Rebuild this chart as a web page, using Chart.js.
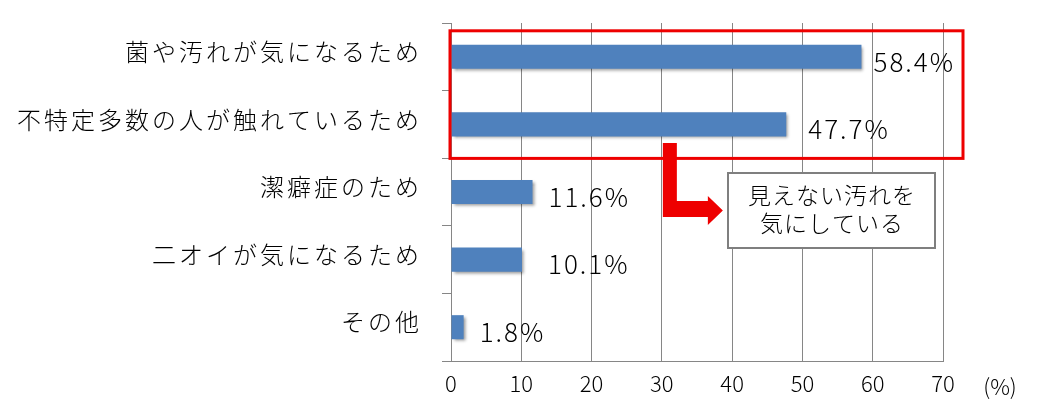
<!DOCTYPE html>
<html>
<head>
<meta charset="utf-8">
<script src="https://cdn.jsdelivr.net/npm/chart.js@4.4.1/dist/chart.umd.min.js"></script>
<style>
  html, body { margin: 0; padding: 0; background: #fff; }
</style>
</head>
<body>
<canvas id="chart" width="1040" height="411"></canvas>
<script>
// data
const categories = ['菌や汚れが気になるため', '不特定多数の人が触れているため', '潔癖症のため', '二オイが気になるため', 'その他'];
const values = [58.4, 47.7, 11.6, 10.1, 1.8];
const axisMin = 0;
const axisMax = 70;
const axisStep = 10;
const unitLabel = '(%)';
const noteLines = ['見えない汚れを', '気にしている'];

const FONT = '"Noto Sans CJK JP", "Noto Sans", sans-serif';
const GREY = '#868686';
const BAR = '#4f81bd';
const RED = '#ee0000';

// gap between bar end and its label, per bar
const labelGap = [12, 22, 16, 26, 16];

// wider Japanese labels, like the original font
const spacing = {
  id: 'spacing',
  beforeUpdate(chart) { chart.ctx.letterSpacing = '3px'; },
  beforeDraw(chart) { chart.ctx.letterSpacing = '3px'; },
  beforeDatasetsDraw(chart) { chart.ctx.letterSpacing = '0px'; }
};

// soft drop shadow under the bars
const shadow = {
  id: 'shadow',
  beforeDatasetsDraw(chart) {
    const ctx = chart.ctx;
    ctx.save();
    ctx.shadowColor = 'rgba(0,0,0,0.4)';
    ctx.shadowOffsetX = 2;
    ctx.shadowOffsetY = 2;
    ctx.shadowBlur = 3;
  },
  afterDatasetsDraw(chart) {
    chart.ctx.restore();
  }
};

const extras = {
  id: 'extras',
  afterDraw(chart) {
    const ctx = chart.ctx;
    const x = chart.scales.x;
    const y = chart.scales.y;
    ctx.save();
    ctx.letterSpacing = '2px';

    // value labels
    ctx.fillStyle = '#000';
    ctx.font = '300 26px ' + FONT;
    ctx.textAlign = 'left';
    ctx.textBaseline = 'middle';
    values.forEach((v, i) => {
      ctx.fillText(v.toFixed(1) + '%', x.getPixelForValue(v) + labelGap[i], y.getPixelForValue(i) + 5);
    });

    // unit
    ctx.letterSpacing = '0px';
    ctx.font = '300 22px ' + FONT;
    ctx.textAlign = 'center';
    ctx.fillText(unitLabel, 1000, 387);

    // red frame round the first two bars
    const left = x.getPixelForValue(0) - 1;
    const top = y.getPixelForValue(0) - 26;
    const bottom = y.getPixelForValue(1) + 34;
    ctx.strokeStyle = RED;
    ctx.lineWidth = 3;
    ctx.strokeRect(left, top, 963 - left, bottom - top);

    // L shaped arrow
    const ax = x.getPixelForValue(30) + 1;
    ctx.fillStyle = RED;
    ctx.beginPath();
    ctx.moveTo(ax, 143);
    ctx.lineTo(ax + 14, 143);
    ctx.lineTo(ax + 14, 201);
    ctx.lineTo(ax + 45, 201);
    ctx.lineTo(ax + 45, 196);
    ctx.lineTo(ax + 60, 210.5);
    ctx.lineTo(ax + 45, 225);
    ctx.lineTo(ax + 45, 217);
    ctx.lineTo(ax, 217);
    ctx.closePath();
    ctx.fill();

    // note box
    ctx.fillStyle = '#fff';
    ctx.fillRect(728, 173, 207, 75);
    ctx.strokeStyle = '#7f7f7f';
    ctx.lineWidth = 2;
    ctx.strokeRect(728, 173, 207, 75);
    ctx.fillStyle = '#000';
    ctx.font = '300 23px ' + FONT;
    ctx.letterSpacing = '1px';
    ctx.textAlign = 'center';
    ctx.fillText(noteLines[0], 832, 195);
    ctx.fillText(noteLines[1], 832, 223);
    ctx.restore();
  }
};

new Chart(document.getElementById('chart'), {
  type: 'bar',
  data: {
    labels: categories,
    datasets: [{
      data: values,
      backgroundColor: BAR,
      borderWidth: 0,
      barPercentage: 0.356,
      categoryPercentage: 1
    }]
  },
  options: {
    indexAxis: 'y',
    responsive: false,
    devicePixelRatio: 1,
    animation: false,
    layout: { padding: { top: 23, right: 97, left: 0, bottom: 0 } },
    plugins: {
      legend: { display: false },
      tooltip: { enabled: false }
    },
    scales: {
      x: {
        min: axisMin,
        max: axisMax,
        afterFit(scale) {
          scale.height = 50;
          scale.paddingLeft = 0;
          scale.paddingRight = 0;
        },
        grid: { color: GREY, lineWidth: 1, drawTicks: false },
        border: { color: GREY, width: 1 },
        ticks: {
          stepSize: axisStep,
          color: '#000',
          font: { family: FONT, size: 22, weight: 300 },
          padding: 9,
          z: 1
        }
      },
      y: {
        afterFit(scale) {
          scale.width = 451;
          scale.paddingTop = 0;
          scale.paddingBottom = 0;
        },
        grid: {
          color: GREY,
          drawOnChartArea: false,
          drawTicks: true,
          tickLength: 9,
          offset: true
        },
        border: { color: GREY, width: 1 },
        ticks: {
          color: '#000',
          font: { family: FONT, size: 24, weight: 300 },
          padding: 20,
          labelOffset: -5
        }
      }
    }
  },
  plugins: [spacing, shadow, extras]
});
</script>
</body>
</html>
